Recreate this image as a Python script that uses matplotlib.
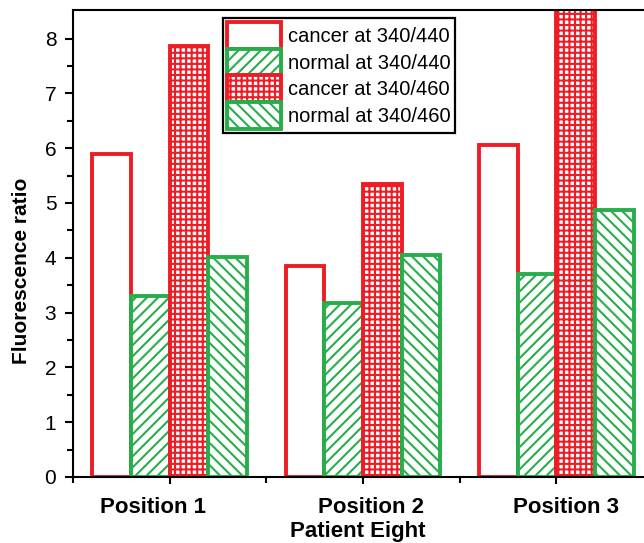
import matplotlib
matplotlib.use("Agg")
import matplotlib.pyplot as plt
import matplotlib.transforms as mtransforms
import numpy as np

# ---------------- data ----------------
positions = ["Position 1", "Position 2", "Position 3"]
series_labels = ["cancer at 340/440", "normal at 340/440",
                 "cancer at 340/460", "normal at 340/460"]
cancer_340_440 = [5.89, 3.85, 6.05]
normal_340_440 = [3.30, 3.18, 3.70]
cancer_340_460 = [7.86, 5.35, 9.00]
normal_340_460 = [4.01, 4.05, 4.87]
y_ticks = [0, 1, 2, 3, 4, 5, 6, 7, 8]
x_label = "Patient Eight"
y_label = "Fluorescence ratio"

# ---------------- style ----------------
plt.rcParams["font.family"] = ["Liberation Sans", "DejaVu Sans"]
plt.rcParams["hatch.linewidth"] = 1.5

RED = "#EE1D25"
GREEN = "#27AE4A"

fig = plt.figure(figsize=(6.44, 5.43), dpi=100)
# axes extends beyond the right edge of the figure (reference is cropped)
ax = fig.add_axes([73 / 644, 66 / 543, 580 / 644, 467 / 543])

x = np.arange(1, len(positions) + 1)
width = 0.2
series = [cancer_340_440, normal_340_440, cancer_340_460, normal_340_460]
colors = [RED, GREEN, RED, GREEN]
hatches = [None, "///", "+++", "\\\\\\"]
offsets = [-1.5, -0.5, 0.5, 1.5]

for vals, col, hat, off, lab in zip(series, colors, hatches, offsets, series_labels):
    ax.bar(x + off * width, vals, width, facecolor="white", edgecolor=col,
           hatch=hat, linewidth=2.8, label=lab, zorder=2)

ax.set_xlim(0.5, 3.5)
ax.set_ylim(0, 8.52)

for s in ax.spines.values():
    s.set_linewidth(1.5)
    s.set_color("black")

ax.set_xticks(x)
ax.set_xticklabels([])
ax.set_xticks([0.5, 1.5, 2.5, 3.5], minor=True)
ax.set_yticks(y_ticks)
ax.set_yticklabels([str(t) for t in y_ticks], fontsize=15)
ax.set_yticks(np.arange(0.5, 8.5, 1.0), minor=True)
ax.tick_params(axis="both", which="major", direction="out", length=6, width=1.5, pad=6)
ax.tick_params(axis="both", which="minor", direction="out", length=4, width=1.5)
ax.tick_params(axis="x", which="major", length=5)

trans = mtransforms.blended_transform_factory(ax.transData, ax.transAxes)
label_x = [0.916, 2.042, 3.05]
for lx, lab in zip(label_x, positions):
    ax.text(lx, -0.077, lab, transform=trans, ha="center", va="baseline",
            fontsize=16, fontweight="bold")
ax.text(1.974, -0.1285, x_label, transform=trans, ha="center", va="baseline",
        fontsize=16, fontweight="bold")

fig.text(22 / 644, 1 - 271 / 543, y_label, rotation=90, ha="center", va="center",
         fontsize=15, fontweight="bold")

leg = ax.legend(loc="upper left", bbox_to_anchor=(223 / 644, 525 / 543),
                bbox_transform=fig.transFigure, borderaxespad=0,
                fontsize=14.5, frameon=True, fancybox=False, shadow=False,
                handlelength=2.7, handleheight=1.66, labelspacing=0.0,
                handletextpad=0.35, borderpad=0.2, framealpha=1)
leg.get_frame().set_edgecolor("black")
leg.get_frame().set_linewidth(1.6)

fig.savefig("out.png", dpi=100)
